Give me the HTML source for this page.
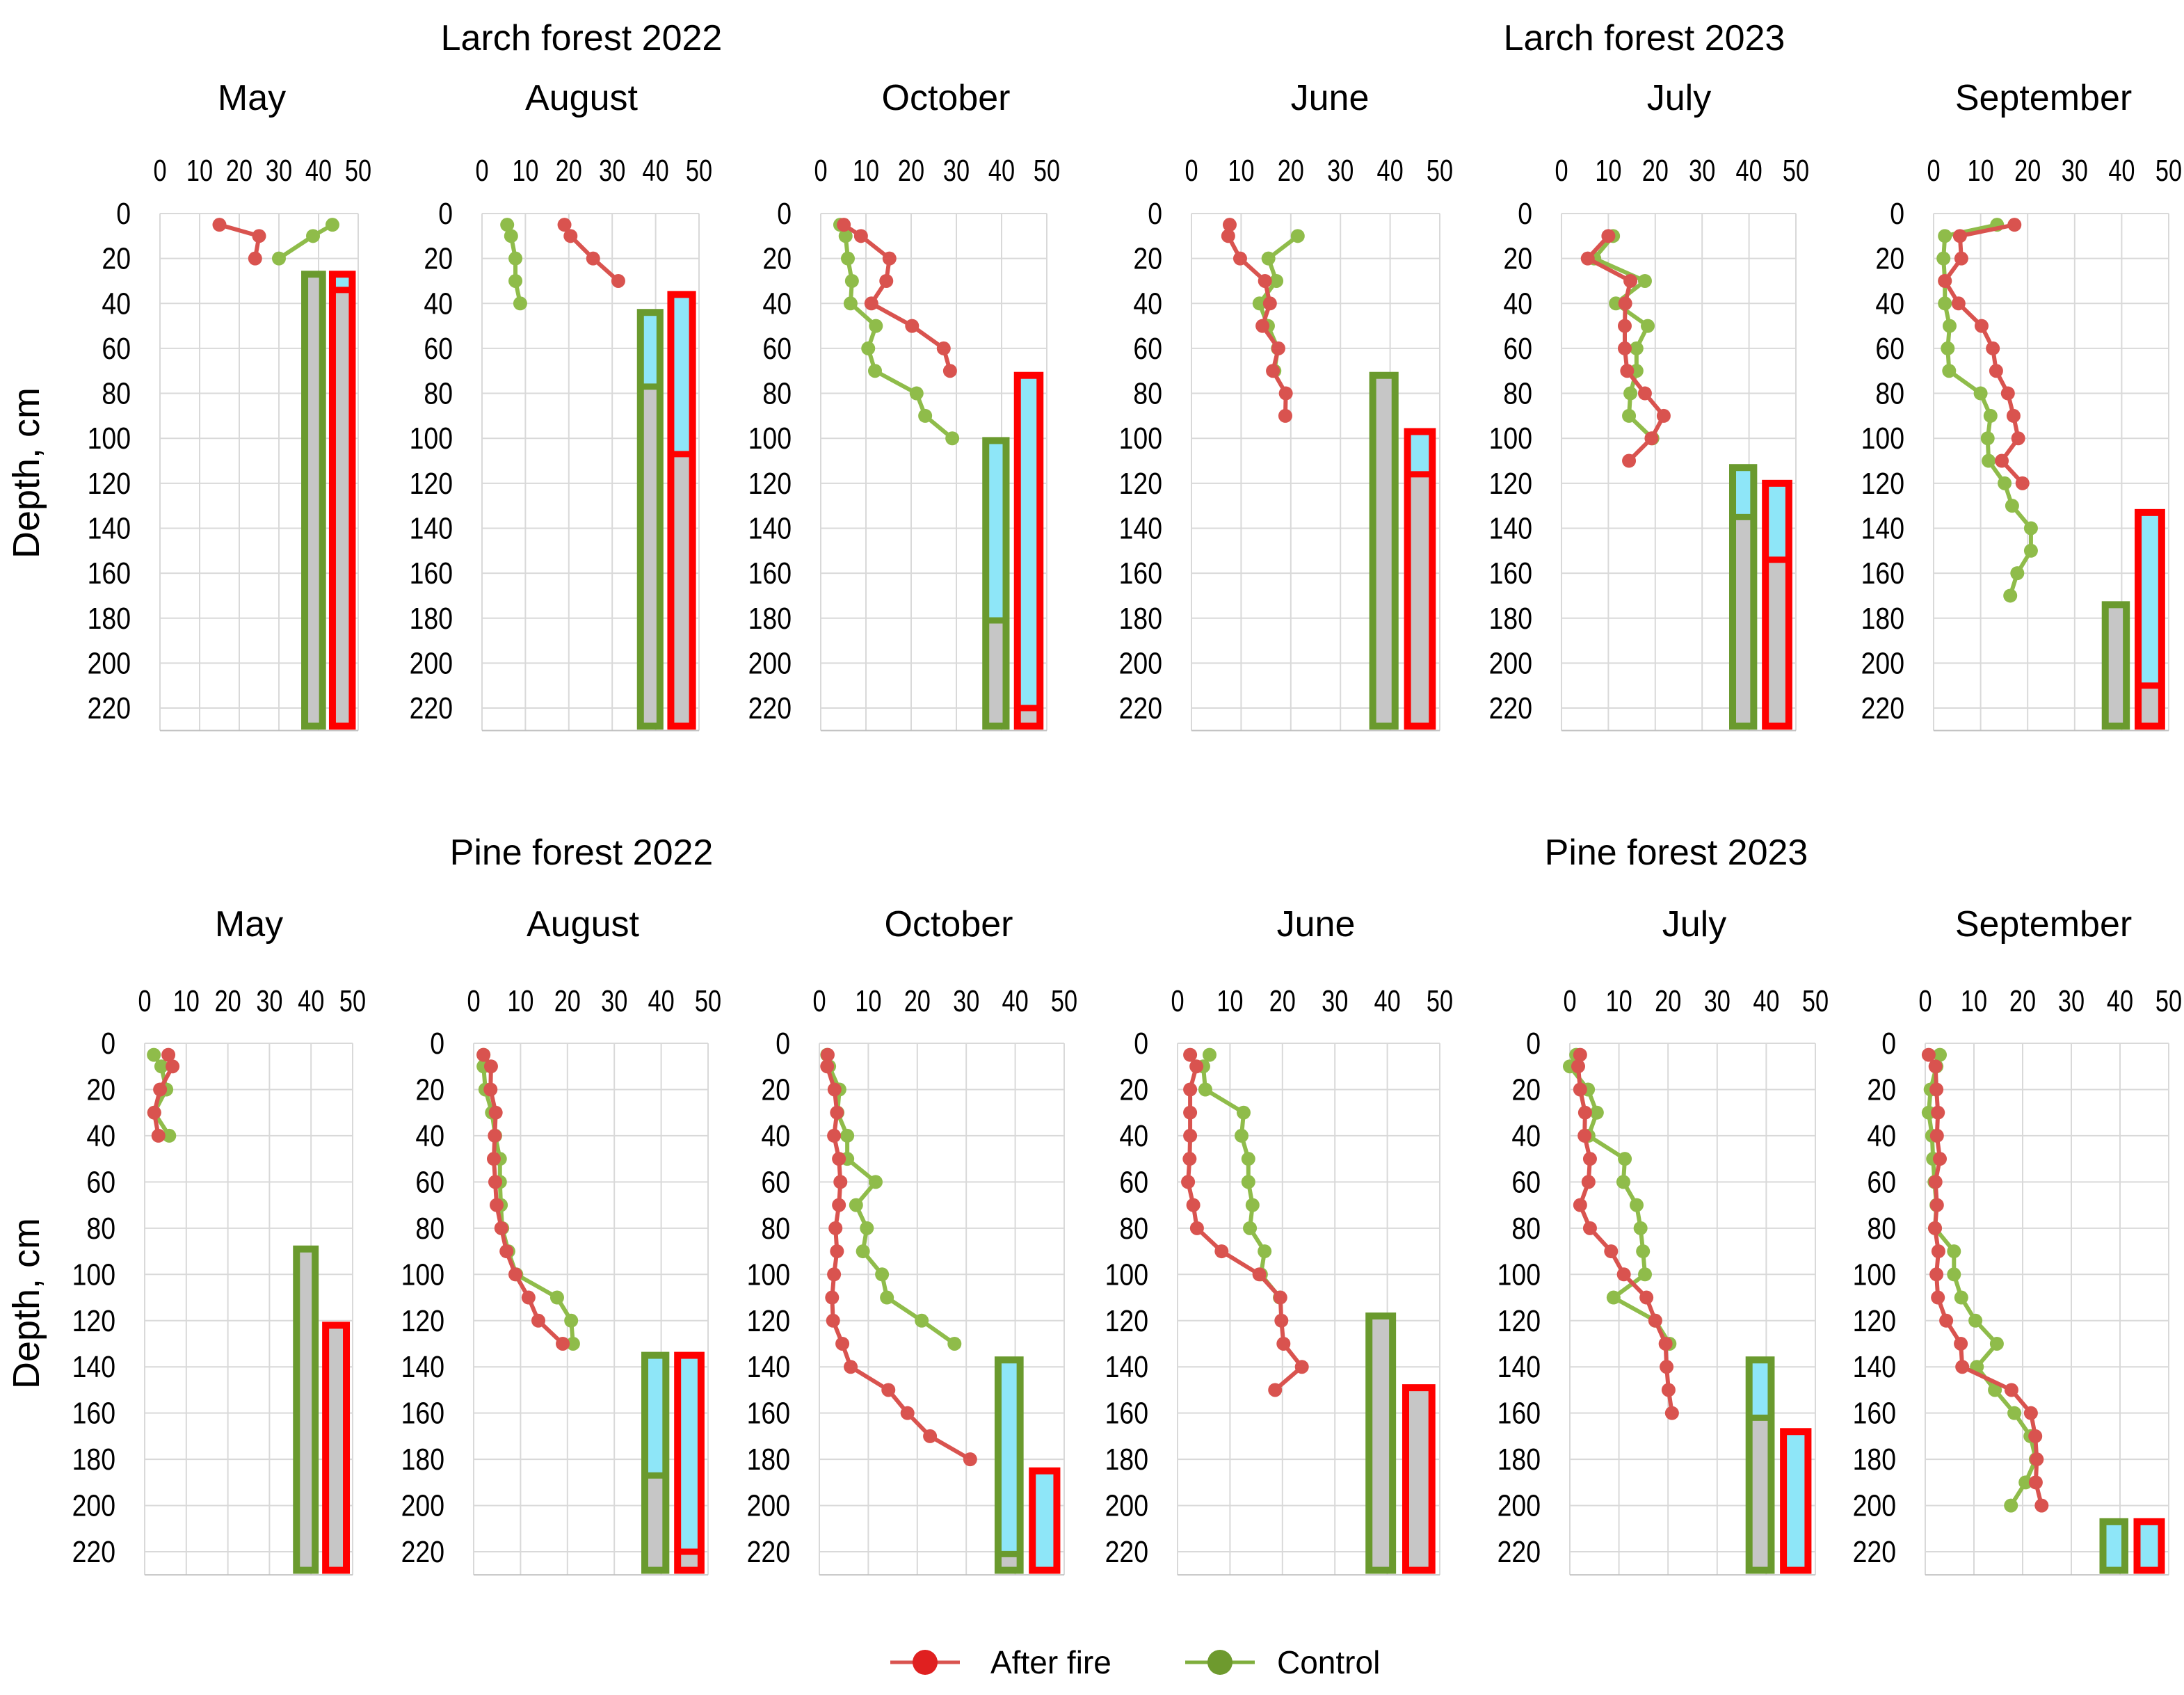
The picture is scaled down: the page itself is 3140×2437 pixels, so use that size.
<!DOCTYPE html>
<html><head><meta charset="utf-8"><style>
html,body{margin:0;padding:0;background:#fff;}
svg{display:block;font-family:"Liberation Sans",sans-serif;}
</style></head><body>
<svg id="chart" width="3140" height="2437" viewBox="0 0 3140 2437" xmlns="http://www.w3.org/2000/svg">
<text x="836" y="72" font-size="52" text-anchor="middle">Larch forest 2022</text>
<text x="2364" y="72" font-size="52" text-anchor="middle">Larch forest 2023</text>
<text x="836" y="1243" font-size="52" text-anchor="middle">Pine forest 2022</text>
<text x="2410" y="1243" font-size="52" text-anchor="middle">Pine forest 2023</text>
<text transform="translate(56,680) rotate(-90)" font-size="54" text-anchor="middle">Depth, cm</text>
<text transform="translate(56,1874) rotate(-90)" font-size="54" text-anchor="middle">Depth, cm</text>
<g>
<line x1="1280" y1="2390" x2="1380" y2="2390" stroke="#d9534f" stroke-width="5"/>
<circle cx="1330" cy="2390" r="18" fill="#e02020"/>
<text x="1424" y="2406" font-size="46">After fire</text>
<line x1="1704" y1="2390" x2="1804" y2="2390" stroke="#7fae3c" stroke-width="5"/>
<circle cx="1754" cy="2390" r="18" fill="#6e9a2e"/>
<text x="1836" y="2406" font-size="46">Control</text>
</g>
</svg>
<script>
// ---- data ----
const panelMonths = ["May","August","October","June","July","September","May","August","October","June","July","September"];
const xTicks = [0,10,20,30,40,50];
const yTicks = [0,20,40,60,80,100,120,140,160,180,200,220];

const redDepths = [
 [5,10,20],
 [5,10,20,30],
 [5,10,20,30,40,50,60,70],
 [5,10,20,30,40,50,60,70,80,90],
 [10,20,30,40,50,60,70,80,90,100,110],
 [5,10,20,30,40,50,60,70,80,90,100,110,120],
 [5,10,20,30,40],
 [5,10,20,30,40,50,60,70,80,90,100,110,120,130],
 [5,10,20,30,40,50,60,70,80,90,100,110,120,130,140,150,160,170,180],
 [5,10,20,30,40,50,60,70,80,90,100,110,120,130,140,150],
 [5,10,20,30,40,50,60,70,80,90,100,110,120,130,140,150,160],
 [5,10,20,30,40,50,60,70,80,90,100,110,120,130,140,150,160,170,180,190,200]
];
const redValues = [
 [15,25,24],
 [19,20.4,25.6,31.4],
 [5.1,8.9,15.2,14.5,11.2,20.2,27.2,28.6],
 [7.7,7.4,9.8,14.8,15.8,14.3,17.5,16.4,19,18.9],
 [10,5.6,14.7,13.6,13.5,13.5,14,17.8,21.8,19.2,14.4],
 [17.2,5.6,5.9,2.4,5.3,10.2,12.6,13.3,15.8,17,18,14.5,18.9],
 [5.7,6.7,3.7,2.3,3.3],
 [2.1,3.7,3.6,4.7,4.5,4.3,4.6,4.9,5.9,7,8.9,11.7,13.8,19],
 [1.7,1.6,3.1,3.6,3,4,4.3,4,3.3,3.6,3,2.6,2.8,4.7,6.4,14.1,18,22.6,30.8],
 [2.4,3.6,2.4,2.4,2.4,2.3,2,3,3.7,8.4,15.6,19.6,19.8,20.2,23.7,18.6],
 [2.1,1.7,2.1,3.1,3,4.1,3.8,2.1,4.1,8.4,11,15.6,17.4,19.5,19.7,20.1,20.8],
 [0.7,2.1,2.3,2.6,2.4,3,2.1,2.4,2,2.7,2.3,2.6,4.3,7.3,7.6,17.7,21.7,22.6,22.9,22.7,23.9]
];
const greenDepths = [
 [5,10,20],
 [5,10,20,30,40],
 [5,10,20,30,40,50,60,70,80,90,100],
 [10,20,30,40,50,60,70],
 [10,20,30,40,50,60,70,80,90,100],
 [5,10,20,30,40,50,60,70,80,90,100,110,120,130,140,150,160,170],
 [5,10,20,30,40],
 [5,10,20,30,40,50,60,70,80,90,100,110,120,130],
 [5,10,20,30,40,50,60,70,80,90,100,110,120,130],
 [5,10,20,30,40,50,60,70,80,90,100,110],
 [5,10,20,30,40,50,60,70,80,90,100,110,120,130],
 [5,10,20,30,40,50,60,70,80,90,100,110,120,130,140,150,160,170,180,190,200]
];
const greenValues = [
 [43.5,38.6,30],
 [5.8,6.7,7.7,7.7,8.8],
 [4.3,5.5,6,6.9,6.6,12.2,10.5,12,21.2,23.1,29.1],
 [21.4,15.5,17.1,13.7,15.4,17.4,16.7],
 [11,7,17.8,11.6,18.4,16,16,14.7,14.4,19.4],
 [13.5,2.4,2.1,2.4,2.4,3.4,3,3.3,10,12.1,11.5,11.7,15.1,16.7,20.7,20.7,17.8,16.3],
 [2.2,4,5.2,2.3,5.9],
 [2.1,2.1,2.5,3.9,4.6,5.6,5.6,5.8,6.1,7.4,9.1,17.8,20.8,21.2],
 [1.6,2,4.1,3.7,5.7,5.7,11.5,7.5,9.7,8.9,12.8,13.8,20.9,27.6],
 [6.1,4.9,5.3,12.6,12.2,13.5,13.5,14.3,13.8,16.6,15.9,19.5],
 [1.3,0,3.7,5.5,3.8,11.2,10.9,13.6,14.4,14.9,15.3,8.9,17.4,20.3],
 [3,2.3,1.1,0.7,1.4,1.6,1.9,2.3,2,5.9,5.9,7.4,10.3,14.7,10.6,14.3,18.3,21.6,22.7,20.6,17.6]
];
// bar depths: top of bar, end of cyan segment (== top means none)
const greenBarTop  = [27,44,101,72,113,174, 89,135,137,118,137,207];
const greenCyanEnd = [27,77,181,72,135,174, 89,187,221,118,162,228];
const redBarTop    = [27,36,72,97,120,133, 122,135,185,149,168,207];
const redCyanEnd   = [34,107,220,116,154,210, 122,220,228,149,228,228];

// ---- layout (not data) ----
const rowGeom = [{y0:307, k:3.232, tickY:260, monthY:158},{y0:1500, k:3.323, tickY:1454, monthY:1346}];
const panelX = [[230,515],[693,1005],[1180,1505],[1713,2070],[2245,2582],[2780,3118],
                [208,507],[681,1018],[1178,1530],[1693,2070],[2257,2610],[2768,3118]];
const monthCx = [362,836,1360,1912,2414,2938, 358,838,1364,1892,2436,2938];

const NS = "http://www.w3.org/2000/svg";
const svg = document.getElementById("chart");
function mk(tag, attrs, parent){
  const e = document.createElementNS(NS, tag);
  for (const k in attrs) e.setAttribute(k, attrs[k]);
  (parent||svg).appendChild(e);
  return e;
}

for (let p = 0; p < 12; p++) {
  const row = rowGeom[p < 6 ? 0 : 1];
  const x0 = panelX[p][0], x1 = panelX[p][1];
  const xs = v => x0 + (x1 - x0) * v / 50;
  const ys = d => row.y0 + row.k * d;
  const g = mk("g", {});
  
  

  const mt = mk("text", {x: monthCx[p], y: row.monthY, "font-size": 52, "text-anchor": "middle"}, g);
  mt.textContent = panelMonths[p];
  
  

  xTicks.forEach(v => {
    const l = mk("line", {x1: xs(v), x2: xs(v), y1: ys(0), y2: ys(230), stroke: "#d9d9d9", "stroke-width": 2}, g);
    
    
    const t = mk("text", {"font-size": 44, "text-anchor": "middle", transform: `translate(${xs(v)},${row.tickY}) scale(0.78,1)`}, g);
    t.textContent = v;
    
    
  });
  yTicks.concat([230]).forEach(d => {
    const l = mk("line", {x1: xs(0), x2: xs(50), y1: ys(d), y2: ys(d), stroke: d === 230 ? "#bfbfbf" : "#d9d9d9", "stroke-width": 2}, g);
    
    
  });
  yTicks.forEach(d => {
    const t = mk("text", {"font-size": 44, "text-anchor": "end", transform: `translate(${xs(0) - 42},${ys(d) + 15}) scale(0.85,1)`}, g);
    t.textContent = d;
    
    
  });

  const bars = [
    {a: 36.5, b: 41, top: greenBarTop[p], cy: greenCyanEnd[p], col: "#6a9a2e", name: "control-bar"},
    {a: 43.5, b: 48.5, top: redBarTop[p], cy: redCyanEnd[p], col: "#ff0000", name: "after-fire-bar"}
  ];
  bars.forEach(bb => {
    const bot = 228;
    const bg = mk("g", {}, g);
    
    
    if (bb.cy > bb.top) mk("rect", {x: xs(bb.a), y: ys(bb.top), width: xs(bb.b) - xs(bb.a), height: ys(Math.min(bb.cy, bot)) - ys(bb.top), fill: "#8ee6f8"}, bg);
    if (bb.cy < bot) mk("rect", {x: xs(bb.a), y: ys(Math.max(bb.cy, bb.top)), width: xs(bb.b) - xs(bb.a), height: ys(bot) - ys(Math.max(bb.cy, bb.top)), fill: "#c6c6c6"}, bg);
    if (bb.cy > bb.top && bb.cy < bot) mk("line", {x1: xs(bb.a), x2: xs(bb.b), y1: ys(bb.cy), y2: ys(bb.cy), stroke: bb.col, "stroke-width": 9}, bg);
    mk("rect", {x: xs(bb.a), y: ys(bb.top), width: xs(bb.b) - xs(bb.a), height: ys(bot) - ys(bb.top), fill: "none", stroke: bb.col, "stroke-width": 10}, bg);
  });

  const series = [
    {d: greenDepths[p], v: greenValues[p], line: "#8fbc4a", dot: "#8fbc4a", name: "control-series"},
    {d: redDepths[p], v: redValues[p], line: "#d9534f", dot: "#d9534f", name: "after-fire-series"}
  ];
  series.forEach(s => {
    const sg = mk("g", {}, g);
    
    
    const pts = s.d.map((d, i) => xs(s.v[i]) + "," + ys(d)).join(" ");
    mk("polyline", {points: pts, fill: "none", stroke: s.line, "stroke-width": 6}, sg);
    s.d.forEach((d, i) => {
      const c = mk("circle", {cx: xs(s.v[i]), cy: ys(d), r: 10, fill: s.dot}, sg);
      
      
    });
  });
}
</script>
</body></html>
